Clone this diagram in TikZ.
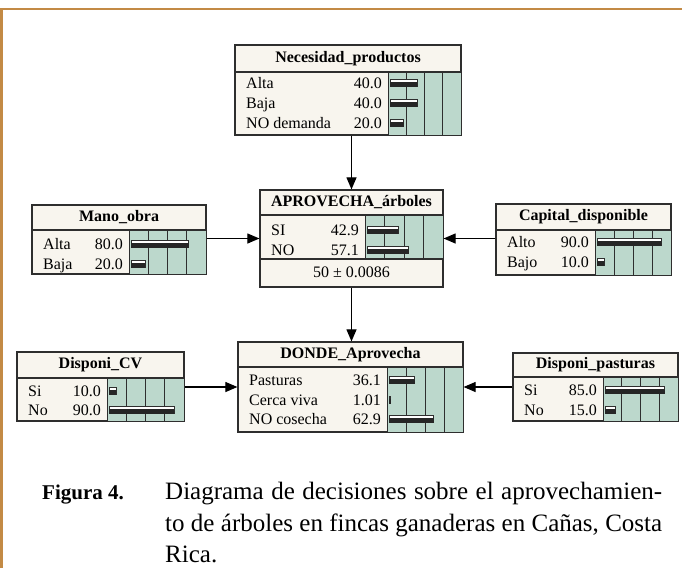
\documentclass[tikz,border=0pt]{standalone}
\usepackage{fontspec}
\setmainfont{Liberation Serif}
\usetikzlibrary{arrows.meta}
\definecolor{framecol}{HTML}{C38A45}
\definecolor{cream}{HTML}{F8F5EE}
\definecolor{bargreen}{HTML}{BCD8CC}
\definecolor{edgecol}{HTML}{2E2E2E}
\tikzset{
 netbox/.style={draw=edgecol, line width=1.2pt, fill=cream, inner sep=0pt, rectangle},
 ttl/.style={font=\fontsize{16}{19}\selectfont\bfseries, inner sep=0pt},
 lbl/.style={font=\fontsize{16}{19}\selectfont, inner sep=0pt, anchor=base west},
 val/.style={font=\fontsize{16}{19}\selectfont, inner sep=0pt, anchor=base east},
 arr/.style={draw=black, line width=1.1pt, -{Triangle[length=12pt,width=10pt]}},
 capt/.style={font=\fontsize{25}{32}\selectfont, inner sep=0pt, anchor=base west},
}
% #1 name, #2 x1, #3 y1, #4 x2, #5 y2, #6 ysep, #7 xbar, #8 ybarbottom, #9 title
\newcommand\NetBox[9]{%
 \node[netbox, minimum width={#4-#2}, minimum height={#5-#3}] (#1) at ({(#2+#4)/2},{(#3+#5)/2}) {};
 \fill[bargreen] (#7,#6) rectangle (#4,#8);
 \pgfmathsetmacro\netbw{(#4-#7)/4}
 \foreach \k in {1,2,3} \draw[edgecol, line width=0.9pt] ({#7+\k*\netbw},#6) -- ({#7+\k*\netbw},#8);
 \draw[edgecol, line width=1pt] (#7,#6) -- (#7,#8);
 \draw[edgecol, line width=1.2pt] (#2,#6) -- (#4,#6);
 \node[ttl] (#1-t) at ({(#2+#4)/2},{(#3+#6)/2}) {#9};
 \draw[edgecol, line width=1.2pt] (#1.north west) rectangle (#1.south east);
}
% #1 name, #2 x1, #3 xbar, #4 x2, #5 y, #6 label, #7 value, #8 pct
\newcommand\NetRow[8]{%
 \node[lbl] (#1-l) at (#2+11,#5+5.5) {#6};
 \node[val] (#1-v) at (#3-6,#5+5.5) {#7};
 \pgfmathsetmacro\netbl{max(#8/100*(#4-#3-5),1.5)}
 \draw[edgecol, fill=white, line width=0.6pt] (#3+2,#5-3.5) rectangle ({#3+2+\netbl},#5+3.5);
 \fill[black!85] (#3+2,#5-1.2) rectangle ({#3+2+\netbl},#5+3.5);
}
\begin{document}
\begin{tikzpicture}[x=1pt,y=-1pt]
\useasboundingbox (0,0) rectangle (682,568);
\fill[white] (0,0) rectangle (682,568);
% frame
\draw[framecol, line width=2.2pt] (1.5,568) -- (1.5,9) -- (682,9);

% Necesidad_productos
\NetBox{nec}{235}{45}{461}{135}{72}{388}{135}{Necesidad\_productos}
\NetRow{nec1}{235}{388}{461}{83}{Alta}{40.0}{40}
\NetRow{nec2}{235}{388}{461}{103}{Baja}{40.0}{40}
\NetRow{nec3}{235}{388}{461}{123}{NO demanda}{20.0}{20}

% Mano_obra
\NetBox{mano}{32}{205}{206}{274}{230}{129}{274}{Mano\_obra}
\NetRow{mano1}{32}{129}{206}{244}{Alta}{80.0}{80}
\NetRow{mano2}{32}{129}{206}{264}{Baja}{20.0}{20}

% APROVECHA_arboles
\NetBox{apr}{260}{190}{443}{287}{215}{365}{259}{APROVECHA\_árboles}
\NetRow{apr1}{260}{365}{443}{230}{SI}{42.9}{42.9}
\NetRow{apr2}{260}{365}{443}{250}{NO}{57.1}{57.1}
\draw[edgecol, line width=1.2pt] (260,259) -- (443,259);
\node[font=\fontsize{16}{19}\selectfont, inner sep=0pt, anchor=base] (aprm) at (351.5,277) {50 ± 0.0086};

% Capital_disponible
\NetBox{cap}{496}{204}{671}{275}{230}{595}{275}{Capital\_disponible}
\NetRow{cap1}{496}{595}{671}{242}{Alto}{90.0}{90}
\NetRow{cap2}{496}{595}{671}{262}{Bajo}{10.0}{10}

% Disponi_CV
\NetBox{dcv}{17}{352}{184}{421}{378}{107}{421}{Disponi\_CV}
\NetRow{dcv1}{17}{107}{184}{391}{Si}{10.0}{10}
\NetRow{dcv2}{17}{107}{184}{410}{No}{90.0}{90}

% DONDE_Aprovecha
\NetBox{don}{238}{342}{463}{432}{367}{387}{432}{DONDE\_Aprovecha}
\NetRow{don1}{238}{387}{463}{380}{Pasturas}{36.1}{36.1}
\NetRow{don2}{238}{387}{463}{400}{Cerca viva}{1.01}{1.01}
\NetRow{don3}{238}{387}{463}{419}{NO cosecha}{62.9}{62.9}

% Disponi_pasturas
\NetBox{dpa}{513}{353}{678}{421}{377}{603}{421}{Disponi\_pasturas}
\NetRow{dpa1}{513}{603}{678}{390}{Si}{85.0}{85}
\NetRow{dpa2}{513}{603}{678}{410}{No}{15.0}{15}

% connectors
\draw[arr] (nec.south -| apr.north) -- (apr.north);
\draw[arr] (apr.south) -- (apr.south |- don.north);
\draw[arr] (mano.east |- apr.west) -- (apr.west);
\draw[arr] (cap.west |- apr.east) -- (apr.east);
\draw[arr] (dcv.east |- don.west) -- (don.west);
\draw[arr] (dpa.west |- don.east) -- (don.east);

% caption
\node[font=\fontsize{21}{32}\selectfont\bfseries, inner sep=0pt, anchor=base west] (fig) at (42,499) {Figura 4.};
\node[capt] (cap1t) at (165,499) {\hbox to 497pt{Diagrama de decisiones sobre el aprovechamien-}};
\node[capt] (cap2t) at (165,531) {\hbox to 497pt{to de árboles en fincas ganaderas en Cañas, Costa}};
\node[capt] (cap3t) at (165,562) {Rica.};
\end{tikzpicture}
\end{document}
